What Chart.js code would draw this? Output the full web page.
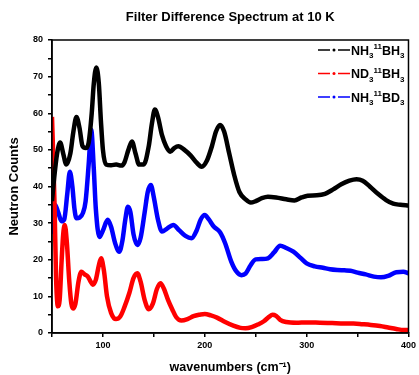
<!DOCTYPE html>
<html>
<head>
<meta charset="utf-8">
<script src="https://cdn.jsdelivr.net/npm/chart.js@4.4.1/dist/chart.umd.min.js"></script>
<style>
  html, body { margin: 0; padding: 0; background: #fff; }
  #wrap { width: 419px; height: 375px; position: relative; }
</style>
</head>
<body>
<div id="wrap"><canvas id="c" width="419" height="375"></canvas></div>
<script>
// NH3 11BH3 (black)
const xBH = [50, 52, 55, 58, 61, 64, 68, 71, 74, 77, 80, 83, 86, 89, 91, 93.5, 96, 98, 100, 103, 108, 113, 118, 121, 125, 128.5, 132, 135.5, 140, 145, 148, 151, 154, 158, 162, 166, 170, 174, 180, 186, 192, 197, 202, 207, 211, 215, 219, 224, 229, 234, 240, 245, 250, 256, 262, 270, 280, 288, 295, 301, 310, 318, 326, 334, 342, 349, 355, 362, 370, 378, 385, 392, 400];
const yBH = [36, 42, 49, 52, 49, 46, 49, 55, 59, 56, 51, 50.5, 52, 60, 68, 72.5, 68, 58, 50, 46, 45.8, 46, 45.7, 46.5, 50, 52.3, 49, 46, 46, 51, 57, 61, 59, 54, 51, 49.5, 50.5, 51, 50, 48.5, 46.5, 45.4, 47, 51, 55, 56.8, 55, 49, 43, 38.5, 36.5, 35.6, 36, 36.8, 37.2, 37, 36.5, 36.2, 37, 37.5, 37.6, 38, 39.2, 40.6, 41.6, 42, 41.6, 40, 38, 36.3, 35.3, 35, 34.8];

// ND3 11BH3 (red)
const xND = [50, 51, 52.5, 54, 55.8, 57.5, 59.5, 61, 62.6, 64.5, 67, 69, 70.7, 73, 76, 78.8, 82, 85.2, 88, 90, 93, 96, 98.2, 101, 104, 108, 112.8, 117, 121, 126, 130, 133.8, 137, 141, 145, 149, 153, 156.5, 160, 164, 168, 172, 177, 183, 189, 195, 200, 206, 212, 220, 228, 235, 240, 246, 252, 258, 263, 266.5, 270, 274, 280, 290, 300, 313, 325, 337, 346, 355, 363, 372, 380, 388, 395, 400];
const yND = [59, 50, 35, 15, 7.3, 9, 20, 27, 29.5, 25, 14, 8, 6.7, 8, 14, 16.7, 16, 15.4, 14, 13.2, 14.5, 18.5, 20.4, 17, 10, 5.5, 3.8, 4.5, 7, 11, 15, 16.3, 14, 9, 6.5, 8, 12, 13.6, 12, 9, 6.5, 4.3, 3.4, 3.8, 4.6, 5, 5.2, 4.8, 4.2, 3, 2, 1.4, 1.3, 1.6, 2.3, 3.2, 4.4, 5, 4.7, 3.6, 3, 2.8, 2.9, 2.8, 2.7, 2.6, 2.6, 2.4, 2.2, 1.9, 1.5, 1.1, 0.8, 0.8];

// NH3 11BD3 (blue)
const xBD = [50, 51, 53, 56, 59.4, 62, 65, 67.5, 70, 72, 74, 77, 80.4, 83, 86, 88.5, 91, 93, 96.6, 100, 104.7, 108, 112, 116, 119, 122, 124.5, 127, 130, 133.8, 137, 141, 144, 147, 150, 154, 158, 163, 169, 175, 181, 187, 192, 196, 200, 204, 209, 215, 220, 226, 231, 236, 240, 245, 250, 256, 262, 268, 274, 280, 287, 294, 300, 308, 316, 323, 330, 337, 343, 350, 358, 366, 373, 380, 388, 395, 400];
const yBD = [27, 33, 35, 33, 30.5, 31, 38, 44, 40, 34, 31.3, 31.5, 32.8, 36, 46, 55.5, 45, 34, 26.2, 28, 30.9, 29, 24.5, 22.2, 25, 31, 34.5, 33, 27, 24, 26, 33, 38.5, 40.4, 37, 31, 27.7, 28.5, 29.5, 28, 26.5, 25.9, 28, 31, 32.2, 31, 29, 27.5, 24.5, 19.5, 16.8, 15.8, 16.2, 18.5, 20.1, 20.2, 20.4, 22, 23.8, 23.2, 22.2, 20.5, 19, 18.2, 17.8, 17.4, 17.2, 17.1, 17, 16.5, 16, 15.4, 15.2, 15.6, 16.6, 16.7, 16.3];

const titleText = "Filter Difference Spectrum at 10 K";
const xTitle = "wavenumbers (cm\u207B\u00B9)";
const yTitle = "Neutron Counts";
// legend label parts: [text, kind] kind: n normal, b subscript, p superscript
const labels = [
  [["NH", "n"], ["3", "b"], ["11", "p"], ["BH", "n"], ["3", "b"]],
  [["ND", "n"], ["3", "b"], ["11", "p"], ["BH", "n"], ["3", "b"]],
  [["NH", "n"], ["3", "b"], ["11", "p"], ["BD", "n"], ["3", "b"]],
];
const colors = ["#000000", "#ff0000", "#0000ff"];

const pts = (xs, ys) => xs.map((x, i) => ({ x, y: ys[i] }));
const FONT = "'Liberation Sans', Arial, sans-serif";

// frame round the plot + title centred over the plot area
const frame = {
  id: "frame",
  afterDraw(chart) {
    const { ctx, chartArea: a } = chart;
    ctx.save();
    ctx.strokeStyle = "#000";
    ctx.lineWidth = 1.5;
    ctx.strokeRect(a.left, a.top, a.right - a.left, a.bottom - a.top);
    ctx.fillStyle = "#000";
    ctx.font = `bold 13px ${FONT}`;
    ctx.textAlign = "center";
    ctx.textBaseline = "middle";
    ctx.fillText(titleText, (a.left + a.right) / 2, 17);
    ctx.restore();
  },
};

const legendBox = {
  id: "legendBox",
  afterDraw(chart) {
    const { ctx } = chart;
    const rows = [50, 73.5, 97];
    ctx.save();
    ctx.textBaseline = "alphabetic";
    labels.forEach((parts, i) => {
      const y = rows[i];
      ctx.strokeStyle = colors[i];
      ctx.fillStyle = colors[i];
      ctx.lineWidth = 1.5;
      ctx.beginPath();
      ctx.moveTo(318, y); ctx.lineTo(330, y);
      ctx.moveTo(338, y); ctx.lineTo(350, y);
      ctx.stroke();
      ctx.beginPath();
      ctx.arc(334, y, 1.5, 0, Math.PI * 2);
      ctx.fill();
      let x = 351;
      ctx.fillStyle = "#000";
      parts.forEach(([t, k]) => {
        const size = k === "n" ? 12.5 : 8;
        ctx.font = `bold ${size}px ${FONT}`;
        const dy = k === "b" ? 3.5 : k === "p" ? -5.5 : 0;
        ctx.fillText(t, x, y + 4.5 + dy);
        x += ctx.measureText(t).width;
      });
    });
    ctx.restore();
  },
};

new Chart(document.getElementById("c"), {
  type: "line",
  data: {
    datasets: [
      { label: "NH3 11BH3", data: pts(xBH, yBH), borderColor: colors[0] },
      { label: "ND3 11BH3", data: pts(xND, yND), borderColor: colors[1] },
      { label: "NH3 11BD3", data: pts(xBD, yBD), borderColor: colors[2] },
    ],
  },
  options: {
    responsive: false,
    animation: false,
    layout: { padding: { left: 0, right: 8, top: 40, bottom: 0 } },
    elements: {
      line: { borderWidth: 4.5, tension: 0.35, cubicInterpolationMode: "monotone" },
      point: { radius: 0 },
    },
    plugins: {
      legend: { display: false },
      tooltip: { enabled: false },
      title: { display: false },
    },
    scales: {
      x: {
        type: "linear",
        min: 50,
        max: 400,
        afterFit: (s) => { s.height = 42; },
        border: { display: true, color: "#000", width: 1.5 },
        grid: { drawOnChartArea: false, drawTicks: true, tickLength: 4, color: "#000", lineWidth: 1.5 },
        ticks: {
          stepSize: 50,
          color: "#000",
          padding: 3,
          maxRotation: 0,
          font: { family: FONT, size: 9, weight: "bold" },
          callback: (v) => (v % 100 === 0 ? v : ""),
        },
        title: {
          display: true,
          text: xTitle,
          color: "#000",
          font: { family: FONT, size: 12.5, weight: "bold" },
          padding: { top: 0, bottom: 0 },
        },
      },
      y: {
        min: 0,
        max: 80,
        afterFit: (s) => { s.width = 52; },
        border: { display: true, color: "#000", width: 1.5 },
        grid: { drawOnChartArea: false, drawTicks: true, tickLength: 4, color: "#000", lineWidth: 1.5 },
        ticks: {
          stepSize: 5,
          color: "#000",
          padding: 5,
          font: { family: FONT, size: 9, weight: "bold" },
          callback: (v) => (v % 10 === 0 ? v : ""),
        },
        title: {
          display: true,
          text: yTitle,
          color: "#000",
          font: { family: FONT, size: 13, weight: "bold" },
          padding: { top: 7, bottom: 0 },
        },
      },
    },
  },
  plugins: [frame, legendBox],
});
</script>
</body>
</html>
